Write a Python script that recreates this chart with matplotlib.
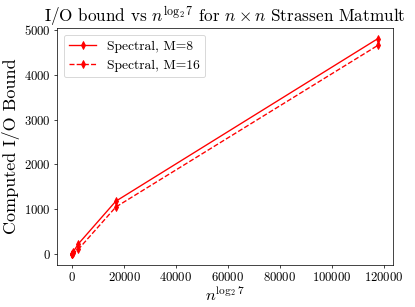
import matplotlib
matplotlib.use("Agg")
import matplotlib.pyplot as plt

plt.rcParams['font.family'] = 'serif'
plt.rcParams['font.serif'] = ['cmr10']
plt.rcParams['mathtext.fontset'] = 'cm'
plt.rcParams['axes.formatter.use_mathtext'] = True

# n = 2, 4, 8, 16, 32, 64 -> n^log2(7)
x_vals = [7, 49, 343, 2401, 16807, 117649]
bound_m8 = [2, 10, 45, 230, 1180, 4800]
bound_m16 = [1, 4, 20, 110, 1050, 4650]

fig = plt.figure(figsize=(415 / 65, 307 / 65), dpi=65)
ax = fig.add_axes([0.137, 0.137, 0.81, 0.772])

ax.plot(x_vals, bound_m8, 'r-d', label='Spectral, M=8')
ax.plot(x_vals, bound_m16, 'r--d', label='Spectral, M=16')

ax.set_title(r'I/O bound vs $n^{\log_2 7}$ for $n \times n$ Strassen Matmult', fontsize=19)
ax.set_xlabel(r'$n^{\log_2 7}$', fontsize=18, labelpad=1)
ax.set_ylabel('Computed I/O Bound', fontsize=20)
ax.tick_params(labelsize=14)
ax.legend(fontsize=15)

fig.savefig('out.png', dpi=65)
